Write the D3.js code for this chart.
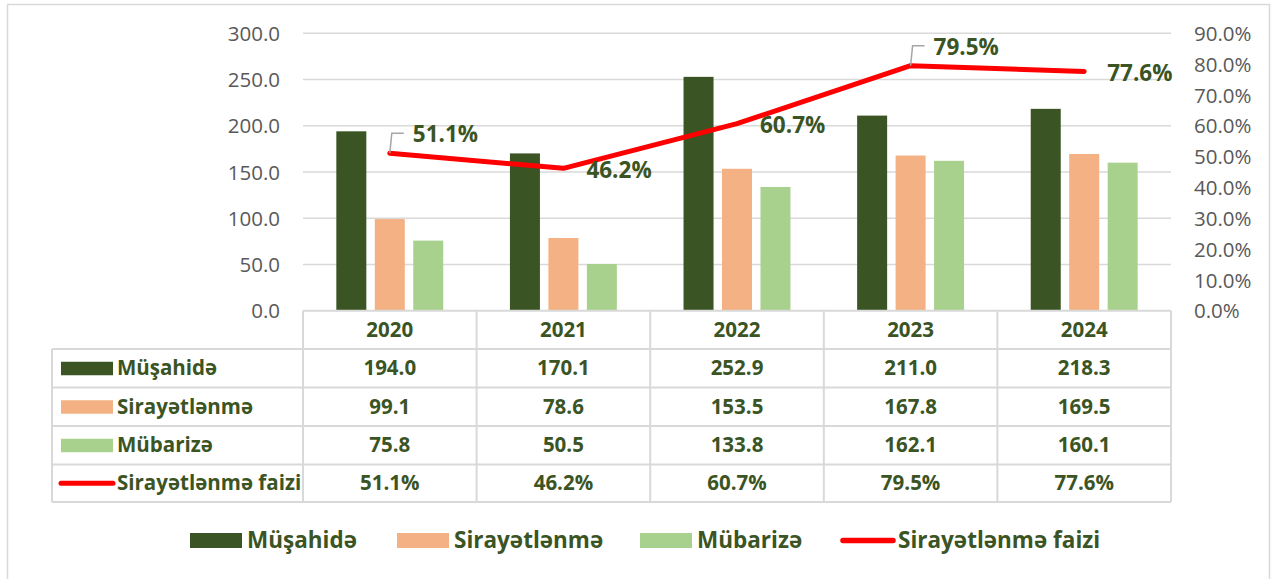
<!DOCTYPE html>
<html>
<head>
<meta charset="utf-8">
<script src="https://cdn.jsdelivr.net/npm/d3@7"></script>
<style>
  html, body { margin: 0; padding: 0; background: #fff; }
  svg { display: block; }
</style>
</head>
<body>
<svg id="chart" width="1273" height="579"></svg>
<script>
// ---- data ----
const years = ["2020", "2021", "2022", "2023", "2024"];
const seriesNames = ["Müşahidə", "Sirayətlənmə", "Mübarizə"];
const musahide = [194.0, 170.1, 252.9, 211.0, 218.3];
const sirayetlenme = [99.1, 78.6, 153.5, 167.8, 169.5];
const mubarize = [75.8, 50.5, 133.8, 162.1, 160.1];
const lineName = "Sirayətlənmə faizi";
const faiz = [0.511, 0.462, 0.607, 0.795, 0.776];
const leftTicks = [0, 50, 100, 150, 200, 250, 300];
const rightTicks = [0, 0.1, 0.2, 0.3, 0.4, 0.5, 0.6, 0.7, 0.8, 0.9];

// ---- styling ----
const colors = ["#3b5424", "#f4b183", "#a9d18e"];
const lineColor = "#ff0000";
const textGreen = "#3b5424";
const axisGray = "#595959";
const gridGray = "#d9d9d9";
const FONT = "'Open Sans', sans-serif";

const seriesValues = [musahide, sirayetlenme, mubarize];
const svg = d3.select("#chart");

// outer chart border
svg.append("rect").attr("x", 7.5).attr("y", 4.5).attr("width", 1262).attr("height", 620)
  .attr("fill", "none").attr("stroke", gridGray).attr("stroke-width", 1.5);

const plotLeft = 303, plotRight = 1171, plotTop = 33.3, plotBottom = 310.7;
const x = d3.scaleBand().domain(years).range([plotLeft, plotRight]).padding(0);
const bw = x.bandwidth();
const x1 = d3.scaleBand().domain(seriesNames).range([-0.308 * bw, 0.308 * bw]).paddingInner(0.22).paddingOuter(0);
const yL = d3.scaleLinear().domain([0, 300]).range([plotBottom, plotTop]);
const yR = d3.scaleLinear().domain([0, 0.9]).range([plotBottom, plotTop]);

// gridlines
svg.append("g").selectAll("line").data(leftTicks.slice(1)).join("line")
  .attr("x1", plotLeft).attr("x2", plotRight)
  .attr("y1", d => yL(d)).attr("y2", d => yL(d))
  .attr("stroke", gridGray).attr("stroke-width", 1.5);

// left axis
const axL = d3.axisLeft(yL).tickValues(leftTicks).tickFormat(d3.format(".1f")).tickSize(0).tickPadding(0);
const gL = svg.append("g").attr("transform", `translate(280,0)`).call(axL);
gL.select(".domain").remove();
gL.selectAll("text").attr("font-family", FONT).attr("font-size", "20.5px").attr("fill", axisGray).attr("dy", "0.35em");

// right axis
const axR = d3.axisRight(yR).tickValues(rightTicks).tickFormat(d3.format(".1%")).tickSize(0).tickPadding(0);
const gR = svg.append("g").attr("transform", `translate(1194,0)`).call(axR);
gR.select(".domain").remove();
gR.selectAll("text").attr("font-family", FONT).attr("font-size", "20.5px").attr("fill", axisGray).attr("dy", "0.35em");

// bars
const barData = [];
years.forEach((yr, i) => seriesNames.forEach((s, j) => barData.push({ yr, s, j, v: seriesValues[j][i] })));
svg.append("g").selectAll("rect").data(barData).join("rect")
  .attr("x", d => x(d.yr) + bw / 2 + x1(d.s))
  .attr("width", x1.bandwidth())
  .attr("y", d => yL(d.v))
  .attr("height", d => yL(0) - yL(d.v))
  .attr("fill", d => colors[d.j]);

// line
const pts = years.map((yr, i) => ({ i, px: x(yr) + bw / 2, py: yR(faiz[i]), v: faiz[i] }));
svg.append("path").datum(pts)
  .attr("d", d3.line().x(d => d.px).y(d => d.py))
  .attr("fill", "none").attr("stroke", lineColor).attr("stroke-width", 5)
  .attr("stroke-linecap", "round").attr("stroke-linejoin", "round");

// data labels
const callouts = new Set([0, 3]);
const fmtPct = d3.format(".1%");
const lbl = svg.append("g");
pts.forEach(p => {
  if (callouts.has(p.i)) {
    const ly = p.py - 20;
    lbl.append("polyline")
      .attr("points", `${p.px},${p.py} ${p.px + 2},${ly} ${p.px + 14},${ly}`)
      .attr("fill", "none").attr("stroke", "#a6a6a6").attr("stroke-width", 1.5);
    lbl.append("text").attr("x", p.px + 23).attr("y", ly + 1).attr("dy", "0.35em")
      .attr("font-family", FONT).attr("font-weight", 700).attr("font-size", "22.5px")
      .attr("fill", textGreen).text(fmtPct(p.v));
  } else {
    lbl.append("text").attr("x", p.px + 23).attr("y", p.py + 2).attr("dy", "0.35em")
      .attr("font-family", FONT).attr("font-weight", 700).attr("font-size", "22.5px")
      .attr("fill", textGreen).text(fmtPct(p.v));
  }
});

// data table
const tableLeft = 52;
const rowEdges = [310.7, 349, 387.5, 426, 464.5, 502];
const tbl = svg.append("g");
// horizontal lines
tbl.append("line").attr("x1", plotLeft).attr("x2", plotRight).attr("y1", rowEdges[0]).attr("y2", rowEdges[0])
  .attr("stroke", gridGray).attr("stroke-width", 2);
rowEdges.slice(1).forEach(y => {
  tbl.append("line").attr("x1", tableLeft).attr("x2", plotRight).attr("y1", y).attr("y2", y)
    .attr("stroke", gridGray).attr("stroke-width", 2);
});
// vertical lines
const colEdges = years.map(yr => x(yr)).concat([plotRight]);
colEdges.forEach(cx => {
  tbl.append("line").attr("x1", cx).attr("x2", cx).attr("y1", rowEdges[0]).attr("y2", rowEdges[5])
    .attr("stroke", gridGray).attr("stroke-width", 2);
});
tbl.append("line").attr("x1", tableLeft).attr("x2", tableLeft).attr("y1", rowEdges[1]).attr("y2", rowEdges[5])
  .attr("stroke", gridGray).attr("stroke-width", 2);

const rowMid = i => (rowEdges[i] + rowEdges[i + 1]) / 2;
// header years
years.forEach(yr => {
  tbl.append("text").attr("x", x(yr) + bw / 2).attr("y", rowMid(0)).attr("dy", "0.35em")
    .attr("text-anchor", "middle").attr("font-family", FONT).attr("font-weight", 700)
    .attr("font-size", "20.5px").attr("fill", textGreen).text(yr);
});
// rows
const rowNames = seriesNames.concat([lineName]);
const rowVals = [musahide.map(d3.format(".1f")), sirayetlenme.map(d3.format(".1f")), mubarize.map(d3.format(".1f")), faiz.map(fmtPct)];
rowNames.forEach((name, r) => {
  const cy = rowMid(r + 1);
  if (r < 3) {
    tbl.append("rect").attr("x", 61).attr("y", cy - 6.5).attr("width", 52).attr("height", 13.5).attr("fill", colors[r]);
  } else {
    tbl.append("line").attr("x1", 61).attr("x2", 113).attr("y1", cy).attr("y2", cy)
      .attr("stroke", lineColor).attr("stroke-width", 5).attr("stroke-linecap", "round");
  }
  tbl.append("text").attr("x", 117).attr("y", cy).attr("dy", "0.35em")
    .attr("font-family", FONT).attr("font-weight", 700).attr("font-size", "20.5px")
    .attr("fill", textGreen).text(name);
  years.forEach((yr, i) => {
    tbl.append("text").attr("x", x(yr) + bw / 2).attr("y", cy).attr("dy", "0.35em")
      .attr("text-anchor", "middle").attr("font-family", FONT).attr("font-weight", 700)
      .attr("font-size", "20.5px").attr("fill", textGreen).text(rowVals[r][i]);
  });
});

// bottom legend
const legendItems = [
  { name: seriesNames[0], type: "rect", color: colors[0], x: 190 },
  { name: seriesNames[1], type: "rect", color: colors[1], x: 397 },
  { name: seriesNames[2], type: "rect", color: colors[2], x: 640 },
  { name: lineName, type: "line", color: lineColor, x: 841 }
];
const legY = 540.5;
const leg = svg.append("g");
legendItems.forEach(it => {
  if (it.type === "rect") {
    leg.append("rect").attr("x", it.x).attr("y", legY - 7.5).attr("width", 52).attr("height", 15).attr("fill", it.color);
  } else {
    leg.append("line").attr("x1", it.x + 2).attr("x2", it.x + 52).attr("y1", legY).attr("y2", legY)
      .attr("stroke", it.color).attr("stroke-width", 5.5).attr("stroke-linecap", "round");
  }
  leg.append("text").attr("x", it.x + 57).attr("y", legY).attr("dy", "0.35em")
    .attr("font-family", FONT).attr("font-weight", 700).attr("font-size", "22.5px")
    .attr("fill", textGreen).text(it.name);
});
</script>
</body>
</html>
